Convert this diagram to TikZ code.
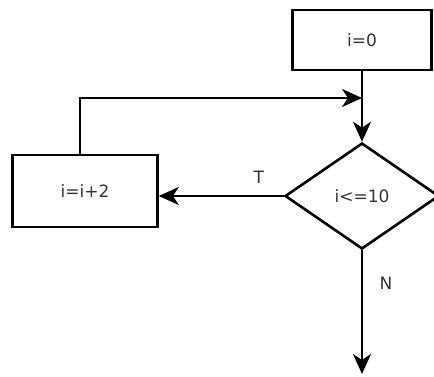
\documentclass[tikz,border=0pt]{standalone}
\usepackage{fontspec}
\setmainfont{DejaVu Sans}
\usetikzlibrary{shapes.geometric,arrows.meta}
\begin{document}
\begin{tikzpicture}[x=1pt,y=-1pt,
  line width=2.6pt,
  txt/.style={font=\fontsize{17}{19}\selectfont, text=black!80},
  box/.style={draw,rectangle,inner sep=0pt,txt},
  decision/.style={draw,diamond,minimum width=154pt,minimum height=106pt,inner sep=0pt,aspect=1.45,txt},
  arr/.style={-{Stealth[length=20pt,width=18pt,inset=6pt]}}]
\useasboundingbox (0,0) rectangle (434,376);
\node[box,minimum width=139pt,minimum height=60pt] (start) at (362,40) {i=0};
\node[box,minimum width=145pt,minimum height=72pt] (inc) at (85,191) {i=i+2};
\node[decision] (cond) at (362,196) {i<=10};
\coordinate (loopL) at (80,98);
\coordinate (join) at (362,98);
\coordinate (endpt) at (362,374);
\draw[arr] (start.south) -- (join) -- (cond.north);
\draw[arr] (inc.north -| loopL) -- (loopL) -- (join);
\draw[arr] (cond.west) -- node[txt,yshift=19pt,pos=0.2] {T} (cond.west -| inc.east);
\draw[arr] (cond.south) -- node[txt,xshift=24pt,pos=0.27] {N} (endpt);
\end{tikzpicture}
\end{document}
